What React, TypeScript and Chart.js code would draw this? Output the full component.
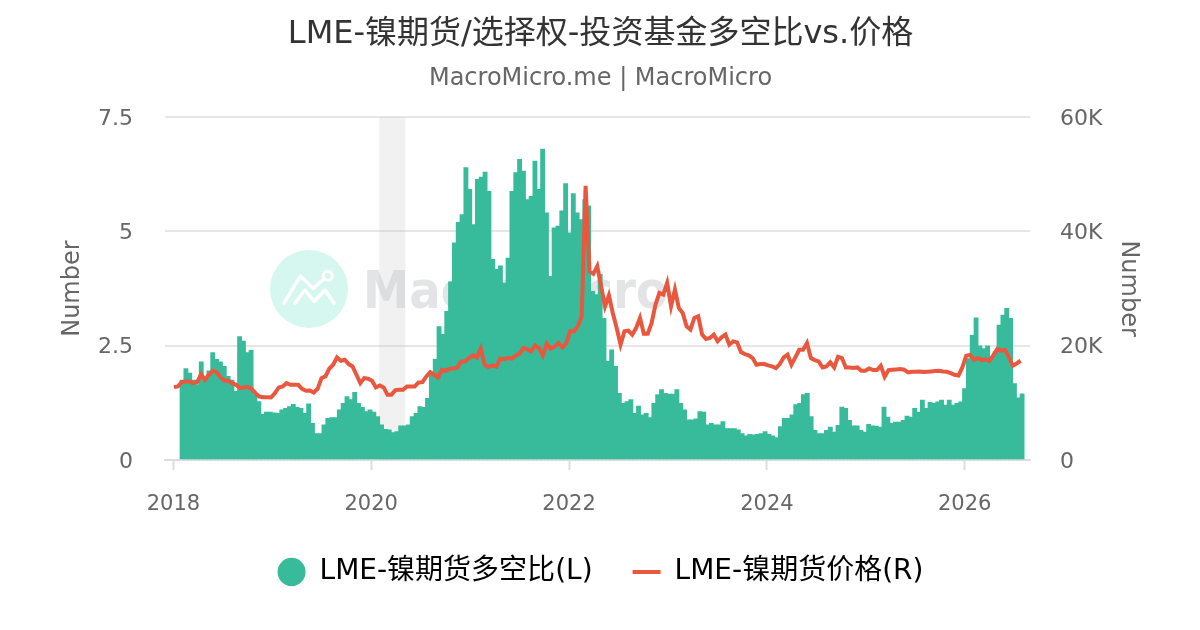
import React, { useEffect, useRef } from "react";
import { Chart, registerables } from "chart.js";

Chart.register(...registerables);

const titleText = "LME-镍期货/选择权-投资基金多空比vs.价格";
const subtitleText = "MacroMicro.me | MacroMicro";
const ratioLabel = "LME-镍期货多空比(L)";
const priceLabel = "LME-镍期货价格(R)";
const axisTitle = "Number";
const leftTicks = [0, 2.5, 5, 7.5];
const rightTicks = [0, 20000, 40000, 60000];
const yearTicks = [2018, 2020, 2022, 2024, 2026];
const shadedBand = [2020.08, 2020.345];
const ratioFirstYear = 2018.0875;
const ratioLastYear = 2026.58;
const priceFirstYear = 2018.005;
const priceLastYear = 2026.565;

const ratioValues = [
  1.75, 2.0, 1.9, 1.75, 1.65, 2.15, 1.8, 1.95, 2.35, 2.2,
  2.15, 2.05, 1.83, 1.75, 1.5, 2.7, 2.6, 2.35, 2.4, 1.43,
  1.28, 1.0, 1.05, 1.05, 1.03, 1.02, 1.1, 1.13, 1.17, 1.22, 1.15,
  1.13, 1.02, 1.23, 0.8, 0.58, 0.58, 0.77, 0.91, 0.93, 0.93,
  1.1, 1.24, 1.39, 1.32, 1.48, 1.24, 1.15, 1.06, 1.1, 1.05,
  0.95, 0.77, 0.67, 0.66, 0.6, 0.62, 0.75, 0.75, 0.77, 0.95,
  1.02, 1.17, 1.15, 1.35, 1.86, 2.2, 2.92, 2.75, 3.25, 3.9,
  4.75, 5.2, 5.37, 6.4, 5.92, 5.15, 6.14, 6.19, 6.3, 5.88,
  4.39, 4.17, 4.25, 3.87, 4.42, 5.88, 6.29, 6.58, 6.32, 5.7,
  5.77, 6.54, 5.92, 6.8, 5.41, 4.02, 5.08, 5.12, 5.45, 6.05,
  4.97, 5.83, 5.41, 5.26, 5.7, 5.56, 3.69, 3.62, 4.06, 3.1,
  2.16, 2.41, 2.05, 1.46, 1.24, 1.28, 1.32, 1.02, 1.18, 0.99,
  1.02, 0.93, 1.24, 1.43, 1.54, 1.46, 1.44, 1.44, 1.54, 1.24,
  1.1, 0.88, 0.88, 0.9, 1.06, 1.05, 0.77, 0.8, 0.77, 0.77,
  0.84, 0.69, 0.69, 0.69, 0.66, 0.58, 0.53, 0.56, 0.55, 0.56,
  0.58, 0.62, 0.56, 0.53, 0.49, 0.73, 0.91, 0.91, 0.99, 1.21,
  1.24, 1.43, 1.46, 0.95, 0.65, 0.58, 0.58, 0.65, 0.72, 0.61,
  0.76, 1.16, 1.13, 0.87, 0.75, 0.75, 0.65, 0.61, 0.78, 0.75,
  0.74, 0.72, 1.16, 0.94, 0.8, 0.83, 0.83, 0.87, 0.96, 0.94,
  1.13, 1.05, 1.31, 1.13, 1.26, 1.24, 1.27, 1.31, 1.2, 1.31,
  1.2, 1.24, 1.27, 1.56, 2.22, 2.73, 3.11, 2.5, 2.44, 2.5,
  2.26, 2.37, 2.95, 3.17, 3.32, 3.1, 1.67, 1.36, 1.45,
];

const priceValues = [
  12750, 12870, 13630, 13750, 13750, 13455, 13630, 15030, 14040, 14920,
  15620, 15385, 14450, 13865, 13865, 13455, 13160, 12580, 12700, 12810,
  12460, 11700, 11115, 11000, 11000, 10940, 11700, 12700, 12870, 13455,
  13160, 13160, 13160, 12460, 12110, 12170, 11820, 12460, 14330, 14625,
  15970, 16670, 17960, 17375, 17550, 16790, 16380, 14920, 13455, 14330,
  14215, 13865, 12700, 13045, 12700, 11400, 11400, 12230, 12285, 12285,
  12870, 12870, 12870, 13570, 13630, 14625, 15385, 14920, 14450, 15800,
  15620, 15970, 16000, 16200,
  17260, 17260, 17840, 18310, 17960, 19480, 16670, 16260, 16550, 16320,
  17725, 17660, 17840, 17725, 18310, 18600, 19600, 19360, 19010, 20065,
  19600, 18310, 20360, 19480, 19830, 20475, 19710, 20420, 22520, 22520,
  23400, 25150, 47970, 33050, 32580, 33930, 30420, 26900, 28840, 25740,
  23100, 20180, 22520, 22640,
  21940, 23100, 24860, 22110, 22110, 23985, 27200, 29250, 28960, 31000,
  26900, 29835, 26620, 25740, 23400, 22815, 24860, 25155, 21940, 21180,
  21350, 21940, 20770, 21470, 21940, 20180, 20770, 20590, 18900, 18540,
  18310, 17840, 16670, 16790, 16790, 16555, 16380, 16090, 16790, 17960,
  18430, 16670, 17960, 19300, 19300, 20475, 17840,
  17490, 17260, 16200, 16380, 17080, 16200, 18080, 17840, 16200, 16200,
  16090, 16200, 15620, 15620, 16030, 15740, 15740, 16500, 14570, 15740,
  15800, 15850, 15910, 15800, 15330, 15440, 15440, 15500, 15390, 15440,
  15500, 15560, 15620, 15500, 15440, 15210, 14920, 14800, 16200, 18250,
  18370, 17490, 17840, 17490, 17600, 17370, 18370, 19420, 19130, 19250,
  17960, 16500, 16900, 17370,
];

const GREEN = "#37BB9B";
const RED = "#E9573F";
const TEXT = "#666666";
const FONT = '"DejaVu Sans", "Noto Sans CJK SC", sans-serif';

const spread = (first: number, last: number, vals: number[]) =>
  vals.map((y, i) => ({ x: first + ((last - first) * i) / (vals.length - 1), y }));

const watermark = {
  id: "watermark",
  beforeDatasetsDraw(chart: any) {
    const { ctx, scales, chartArea } = chart;
    ctx.save();
    ctx.fillStyle = "#D5F7EF";
    ctx.beginPath();
    ctx.arc(309, 289, 39, 0, Math.PI * 2);
    ctx.fill();
    ctx.strokeStyle = "#FFFFFF";
    ctx.lineWidth = 3.5;
    ctx.lineCap = "round";
    ctx.lineJoin = "round";
    ctx.beginPath();
    ctx.moveTo(284, 303);
    ctx.lineTo(300.5, 276);
    ctx.lineTo(313, 288.5);
    ctx.lineTo(324, 279);
    ctx.moveTo(295, 303);
    ctx.lineTo(305, 290);
    ctx.lineTo(314, 301.5);
    ctx.lineTo(325, 290);
    ctx.lineTo(334, 303);
    ctx.stroke();
    ctx.lineWidth = 3;
    ctx.beginPath();
    ctx.arc(327.7, 275.7, 4.5, 0, Math.PI * 2);
    ctx.stroke();
    ctx.fillStyle = "#E3E4E6";
    ctx.font = `bold 52px ${FONT}`;
    ctx.textBaseline = "alphabetic";
    ctx.textAlign = "left";
    ctx.fillText("MacroMicro", 363, 308, 305);
    const x0 = scales.x.getPixelForValue(shadedBand[0]);
    const x1 = scales.x.getPixelForValue(shadedBand[1]);
    ctx.fillStyle = "rgba(200,200,200,0.25)";
    ctx.fillRect(x0, chartArea.top, x1 - x0, chartArea.bottom - chartArea.top);
    ctx.restore();
  },
};

export default function App() {
  const ref = useRef<HTMLCanvasElement | null>(null);
  useEffect(() => {
    if (!ref.current) return;
    const chart = new Chart(ref.current, {
      data: {
        datasets: [
          {
            type: "line",
            label: priceLabel,
            data: spread(priceFirstYear, priceLastYear, priceValues),
            yAxisID: "yR",
            borderColor: RED,
            backgroundColor: RED,
            borderWidth: 4,
            pointRadius: 0,
            tension: 0,
            order: 0,
          },
          {
            type: "bar",
            label: ratioLabel,
            data: spread(ratioFirstYear, ratioLastYear, ratioValues),
            yAxisID: "yL",
            backgroundColor: GREEN,
            borderWidth: 0,
            barThickness: 4.2,
            order: 1,
          },
        ],
      } as any,
      plugins: [watermark],
      options: {
        responsive: false,
        animation: false,
        layout: { padding: { top: 0, bottom: 34, left: 58, right: 57 } },
        scales: {
          x: {
            type: "linear",
            min: 2017.915,
            max: 2026.66,
            offset: false,
            afterFit: (s: any) => {
              s.height = 58;
            },
            afterBuildTicks: (s: any) => {
              s.ticks = yearTicks.map((value) => ({ value }));
            },
            ticks: {
              color: TEXT,
              font: { family: FONT, size: 21 },
              padding: 22,
              maxRotation: 0,
              callback: (v: any) => String(v),
            },
            grid: {
              offset: false,
              drawOnChartArea: false,
              drawTicks: true,
              tickLength: 10,
              tickColor: "#DDDDDD",
              tickWidth: 2,
            },
            border: { color: "#DDDDDD", width: 2 },
          },
          yL: {
            position: "left",
            min: 0,
            max: 7.5,
            afterFit: (s: any) => {
              s.width = 107;
            },
            afterBuildTicks: (s: any) => {
              s.ticks = leftTicks.map((value) => ({ value }));
            },
            ticks: {
              color: TEXT,
              font: { family: FONT, size: 22 },
              padding: 32,
              labelOffset: 2,
              callback: (v: any) => String(v),
            },
            grid: { color: "#E6E6E6", lineWidth: 2, drawTicks: false },
            border: { display: false },
            title: {
              display: true,
              text: axisTitle,
              color: TEXT,
              font: { family: FONT, size: 24 },
              padding: { top: 0, bottom: 0 },
            },
          },
          yR: {
            position: "right",
            min: 0,
            max: 60000,
            afterFit: (s: any) => {
              s.width = 113;
            },
            afterBuildTicks: (s: any) => {
              s.ticks = rightTicks.map((value) => ({ value }));
            },
            ticks: {
              color: TEXT,
              font: { family: FONT, size: 22 },
              padding: 30,
              labelOffset: 2,
              callback: (v: any) => (v === 0 ? "0" : `${v / 1000}K`),
            },
            grid: { drawOnChartArea: false, drawTicks: false },
            border: { display: false },
            title: {
              display: true,
              text: axisTitle,
              color: TEXT,
              font: { family: FONT, size: 24 },
              padding: { top: 0, bottom: 0 },
            },
          },
        },
        plugins: {
          tooltip: { enabled: false },
          title: {
            display: true,
            text: titleText,
            color: "#333333",
            font: { family: FONT, size: 32, weight: "normal" },
            padding: { top: 15, bottom: 11 },
          },
          subtitle: {
            display: true,
            text: subtitleText,
            color: TEXT,
            font: { family: FONT, size: 24, weight: "normal" },
            padding: { top: 0, bottom: 24 },
          },
          legend: {
            display: true,
            position: "bottom",
            reverse: true,
            labels: {
              color: "#000000",
              font: { family: FONT, size: 28 },
              usePointStyle: true,
              boxHeight: 20,
              pointStyleWidth: 28,
              padding: 40,
              generateLabels: () => [
                {
                  text: priceLabel,
                  pointStyle: "line",
                  fillStyle: RED,
                  strokeStyle: RED,
                  lineWidth: 4,
                  datasetIndex: 0,
                },
                {
                  text: ratioLabel,
                  pointStyle: "circle",
                  fillStyle: GREEN,
                  strokeStyle: GREEN,
                  lineWidth: 0,
                  datasetIndex: 1,
                },
              ],
            },
          },
        },
      } as any,
    });
    return () => chart.destroy();
  }, []);
  return (
    <canvas
      ref={ref}
      width={1200}
      height={630}
      style={{ position: "fixed", left: 0, top: 0, display: "block" }}
    />
  );
}
